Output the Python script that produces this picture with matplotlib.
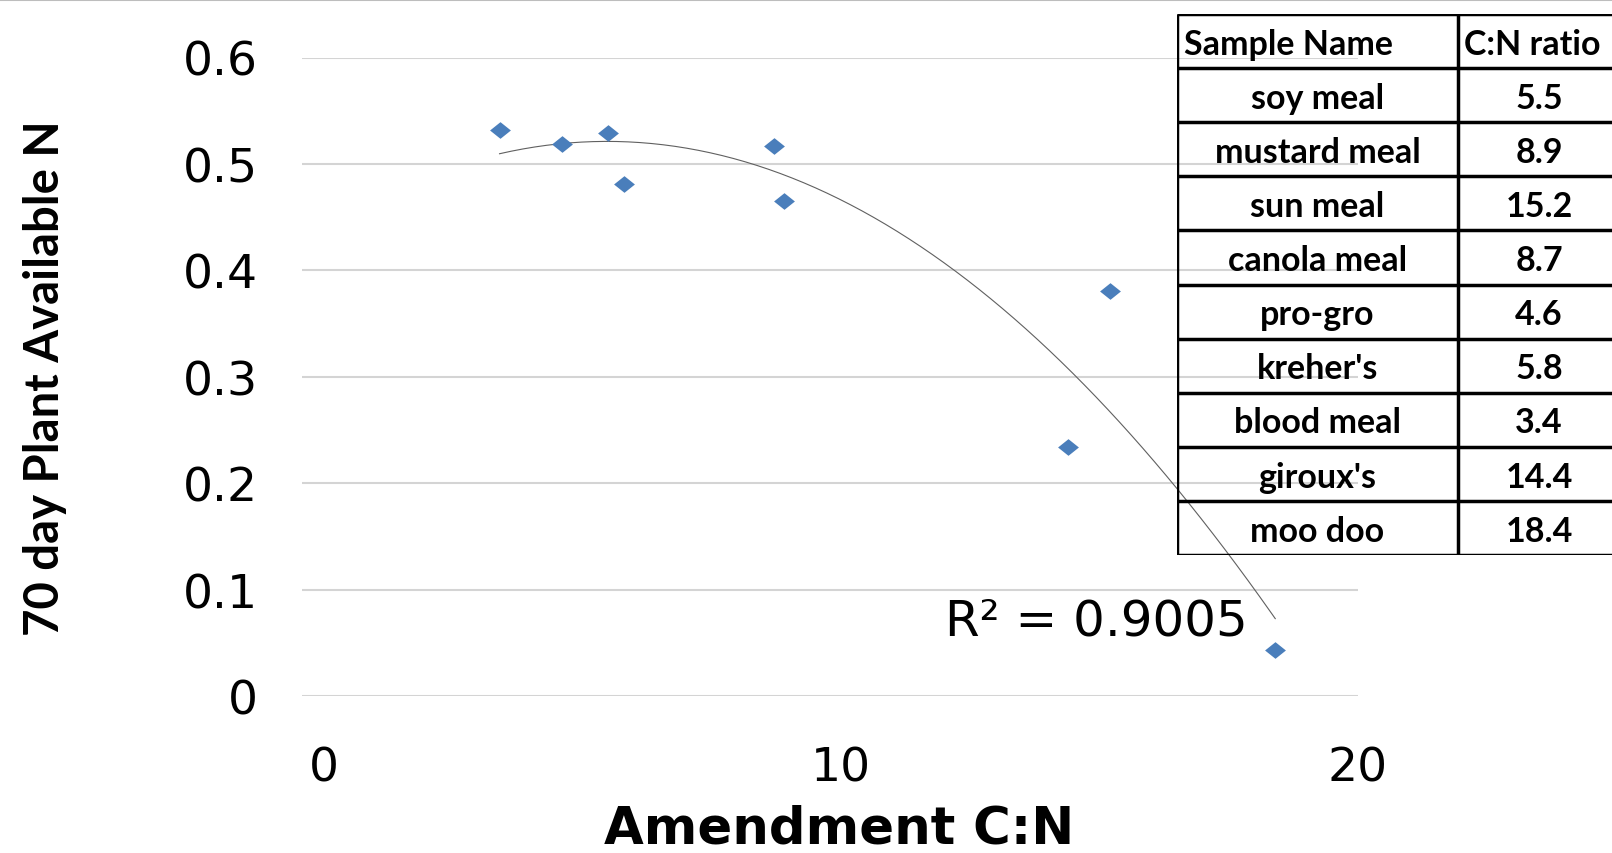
import numpy as np
import matplotlib
matplotlib.use('Agg')
import matplotlib.pyplot as plt
from matplotlib.lines import Line2D

# data (C:N ratio vs plant available N at 70 days)
samples = ['soy meal', 'mustard meal', 'sun meal', 'canola meal', 'pro-gro',
           "kreher's", 'blood meal', "giroux's", 'moo doo']
cn_ratio = [5.5, 8.9, 15.2, 8.7, 4.6, 5.8, 3.4, 14.4, 18.4]
plant_n = [0.529, 0.465, 0.381, 0.517, 0.519, 0.481, 0.532, 0.234, 0.043]
r2_text = 'R² = 0.9005'

y_ticks = [0, 0.1, 0.2, 0.3, 0.4, 0.5, 0.6]
y_ticklabels = ['0', '0.1', '0.2', '0.3', '0.4', '0.5', '0.6']
x_ticks = [0, 10, 20]

W, H = 1612, 854
fig = plt.figure(figsize=(W / 100, H / 100), dpi=100)

# main scatter axes
ax = fig.add_axes([302 / W, 1 - 697 / H, (1358 - 302) / W, (697 - 58.5) / H])
ax.set_xlim(-0.42, 20)
ax.set_ylim(0, 0.6)
for s in ax.spines.values():
    s.set_visible(False)
ax.set_yticks(y_ticks)
ax.set_yticklabels(y_ticklabels)
ax.set_xticks(x_ticks)
ax.set_xticks([10], minor=True)
ax.tick_params(axis='both', which='major', length=0, labelsize=34, labelcolor='black')
ax.tick_params(axis='y', pad=32)
ax.tick_params(axis='x', pad=36)
ax.tick_params(axis='x', which='minor', length=11, width=1.5, color='#bfbfbf')
ax.grid(axis='y', color='#d4d4d4', linewidth=1.5)
ax.set_axisbelow(True)

# 2nd order polynomial trendline
coef = np.polyfit(cn_ratio, plant_n, 2)
xs = np.linspace(min(cn_ratio), max(cn_ratio), 200)
ax.plot(xs, np.polyval(coef, xs), color='#606060', linewidth=0.8, zorder=2)

diamond = [(-1, 0), (0, 0.8), (1, 0), (0, -0.8), (-1, 0)]
ax.plot(cn_ratio, plant_n, linestyle='none', marker=diamond, markersize=15,
        color='#4a7ebb', markeredgewidth=0, zorder=3)

ax.text(17.86, 0.0714, r2_text, fontsize=36, ha='right', va='center')

ax.set_xlabel('Amendment C:N', fontsize=37, fontweight='bold', va='center')
ax.xaxis.set_label_coords(0.509, -0.207)
ax.set_ylabel('70 day Plant Available N', fontsize=34, fontweight='bold',
              family='Lato', va='center')
ax.yaxis.set_label_coords(-0.243, 0.5)

# table on the right
tw = W - 1177
tax = fig.add_axes([1177 / W, 1 - 556 / H, tw / W, (556 - 15) / H])
tax.set_xlim(0, tw)
tax.set_ylim(len(samples) + 1, 0)
tax.axis('off')
col_split = 281
tax.hlines(range(len(samples) + 2), 0, tw, color='black', linewidth=2.5)
tax.vlines([0, col_split], 0, len(samples) + 1, color='black', linewidth=2.5)
tfont = dict(family='Lato', fontweight='bold', fontsize=24.5, va='center')
tax.text(7, 0.56, 'Sample Name', ha='left', **tfont)
tax.text(col_split + 6, 0.56, 'C:N ratio', ha='left', **tfont)
for i, (name, cn) in enumerate(zip(samples, cn_ratio)):
    tax.text(col_split / 2, i + 1.55, name, ha='center', **tfont)
    tax.text(362, i + 1.55, f'{cn:.1f}', ha='center', **tfont)

# thin grey border at the top of the picture
fig.add_artist(Line2D([0, 1], [0.999, 0.999], transform=fig.transFigure,
                      color='#bdbdbd', linewidth=1.5))

fig.savefig('out.png', dpi=100)
